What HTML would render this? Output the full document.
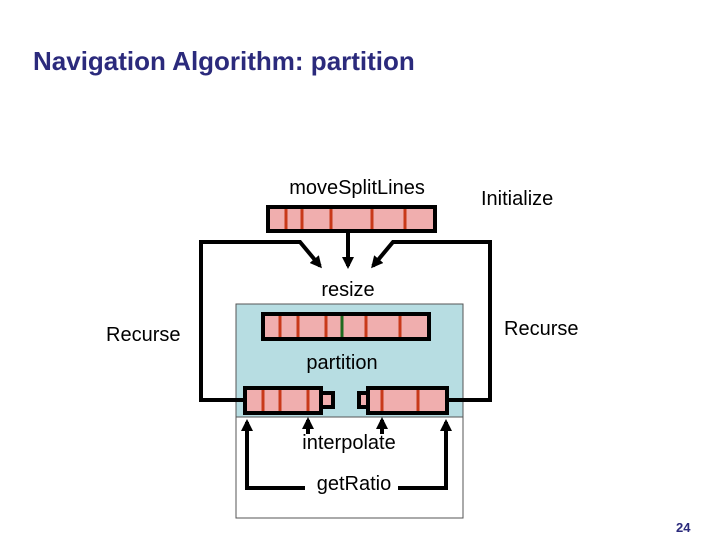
<!DOCTYPE html>
<html><head><meta charset="utf-8"><style>
html,body{margin:0;padding:0;background:#fff;width:720px;height:540px;overflow:hidden}
text{font-family:"Liberation Sans",Arial,sans-serif}
</style></head><body>
<svg width="720" height="540" viewBox="0 0 720 540" xmlns="http://www.w3.org/2000/svg">
<defs>
<marker id="a" markerWidth="8" markerHeight="8" refX="6" refY="4" orient="auto" markerUnits="userSpaceOnUse">
<path d="M0,0 L8,4 L0,8 z" fill="#000"/></marker>
<marker id="b" markerWidth="12" markerHeight="12" refX="9" refY="6" orient="auto" markerUnits="userSpaceOnUse">
<path d="M0,0 L12,6 L0,12 z" fill="#000"/></marker>
</defs>
<text x="33" y="70" font-size="26" font-weight="bold" fill="#2b2a7c">Navigation Algorithm: partition</text>

<!-- boxes -->
<rect x="236" y="304" width="227" height="113" fill="#b7dde2" stroke="#555" stroke-width="1"/>
<rect x="236" y="417" width="227" height="101" fill="#fff" stroke="#555" stroke-width="1"/>

<!-- connectors -->
<g stroke="#000" stroke-width="4" fill="none">
<polyline points="245,400 201,400 201,242 300,242 320,266" marker-end="url(#b)"/>
<polyline points="447,400 490,400 490,242 393,242 373,266" marker-end="url(#b)"/>
<line x1="348" y1="231" x2="348" y2="266" marker-end="url(#b)"/>
<polyline points="305,488 247,488 247,422" marker-end="url(#b)"/>
<polyline points="398,488 446,488 446,422" marker-end="url(#b)"/>
<line x1="308" y1="434" x2="308" y2="420" marker-end="url(#b)"/>
<line x1="382" y1="434" x2="382" y2="420" marker-end="url(#b)"/>
</g>

<!-- bars -->
<g stroke="#000" stroke-width="4" fill="#f0aeae">
<rect x="268" y="207" width="167" height="24"/>
<rect x="263" y="314" width="166" height="25"/>
<rect x="245" y="388" width="76" height="25"/>
<rect x="321" y="393" width="12" height="14"/>
<rect x="368" y="388" width="79" height="25"/>
<rect x="359" y="393" width="9" height="14"/>
</g>
<g stroke="#c8391a" stroke-width="3">
<line x1="286" y1="209" x2="286" y2="229"/><line x1="302" y1="209" x2="302" y2="229"/>
<line x1="331" y1="209" x2="331" y2="229"/><line x1="372" y1="209" x2="372" y2="229"/>
<line x1="405" y1="209" x2="405" y2="229"/>
<line x1="280" y1="316" x2="280" y2="337"/><line x1="298" y1="316" x2="298" y2="337"/>
<line x1="326" y1="316" x2="326" y2="337"/><line x1="366" y1="316" x2="366" y2="337"/>
<line x1="400" y1="316" x2="400" y2="337"/>
<line x1="263" y1="390" x2="263" y2="411"/><line x1="280" y1="390" x2="280" y2="411"/>
<line x1="308" y1="390" x2="308" y2="411"/>
<line x1="382" y1="390" x2="382" y2="411"/><line x1="418" y1="390" x2="418" y2="411"/>
</g>
<line x1="342" y1="316" x2="342" y2="337" stroke="#1f6a1f" stroke-width="3"/>

<!-- labels -->
<g font-size="20" fill="#000">
<text x="357" y="194" text-anchor="middle">moveSplitLines</text>
<text x="481" y="205">Initialize</text>
<text x="348" y="296" text-anchor="middle">resize</text>
<text x="106" y="341">Recurse</text>
<text x="504" y="335">Recurse</text>
<text x="342" y="369" text-anchor="middle">partition</text>
<text x="349" y="449" text-anchor="middle">interpolate</text>
<text x="354" y="490" text-anchor="middle">getRatio</text>
</g>
<text x="676" y="532" font-size="13" font-weight="bold" fill="#2b2a7c">24</text>
</svg>
</body></html>
